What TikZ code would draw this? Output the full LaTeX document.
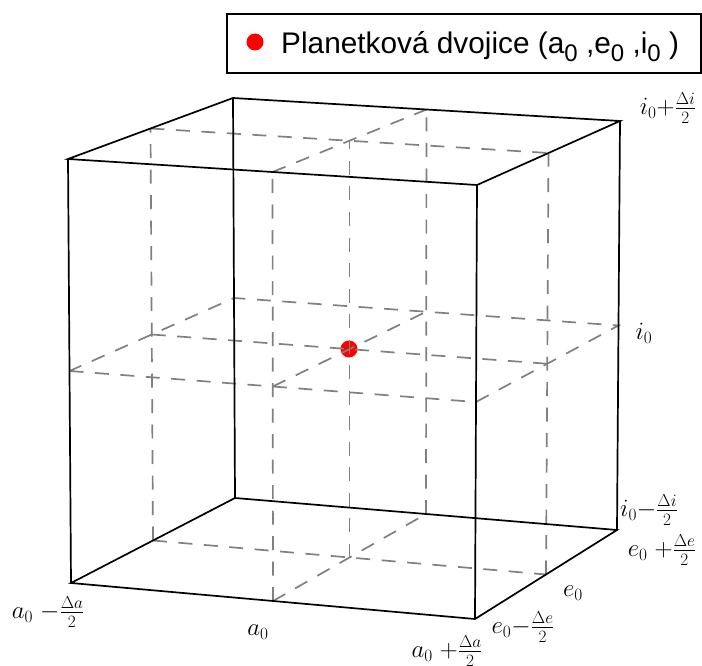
\documentclass[tikz,border=0pt]{standalone}
\usepackage{fontspec}
\newfontfamily\legendfont{Liberation Sans}
\usetikzlibrary{calc}
\newcommand\lsub[1]{\raisebox{-8pt}{\fontsize{24}{24}\selectfont #1}}
\tikzset{
  edge/.style={line width=1.7pt, black},
  grid/.style={line width=1.7pt, color={rgb,255:red,128;green,128;blue,128}, dash pattern=on 14pt off 11.5pt},
  lab/.style={inner sep=0pt, font=\fontsize{24}{28}\selectfont},
}
\begin{document}
\begin{tikzpicture}[x=1pt,y=-1pt]
\useasboundingbox (0,0) rectangle (702,666);
% corners
\coordinate (A) at (71,583);
\coordinate (B) at (475,619);
\coordinate (C) at (617,530);
\coordinate (D) at (235,498);
\coordinate (At) at (68,159);
\coordinate (Bt) at (477,185);
\coordinate (Ct) at (620,121);
\coordinate (Dt) at (233,98);
% bottom mids
\coordinate (mAB) at ($(A)!0.5!(B)$);
\coordinate (mDC) at ($(D)!0.5!(C)$);
\coordinate (mAD) at ($(A)!0.5!(D)$);
\coordinate (mBC) at ($(B)!0.5!(C)$);
\coordinate (cB) at ($(mAB)!0.5!(mDC)$);
% top mids
\coordinate (tAB) at ($(At)!0.5!(Bt)$);
\coordinate (tDC) at ($(Dt)!0.5!(Ct)$);
\coordinate (tAD) at ($(At)!0.5!(Dt)$);
\coordinate (tBC) at ($(Bt)!0.5!(Ct)$);
\coordinate (cT) at ($(tAB)!0.5!(tDC)$);
% middle plane
\coordinate (hA) at ($(A)!0.5!(At)$);
\coordinate (hB) at ($(B)!0.5!(Bt)$);
\coordinate (hC) at ($(C)!0.5!(Ct)$);
\coordinate (hD) at ($(D)!0.5!(Dt)$);
\coordinate (hAB) at ($(mAB)!0.5!(tAB)$);
\coordinate (hDC) at ($(mDC)!0.5!(tDC)$);
\coordinate (hAD) at ($(mAD)!0.5!(tAD)$);
\coordinate (hBC) at ($(mBC)!0.5!(tBC)$);
% point
\fill[red] (349,349) circle (8.5pt);
% dashed grid
\draw[grid] (mAB) -- (tAB);
\draw[grid] (mDC) -- (tDC);
\draw[grid] (mAD) -- (tAD);
\draw[grid] (mBC) -- (tBC);
\draw[grid] (cB) -- (cT);
\draw[grid] (mAB) -- (mDC);
\draw[grid] (mAD) -- (mBC);
\draw[grid] (tAB) -- (tDC);
\draw[grid] (tAD) -- (tBC);
\draw[grid] (hA) -- (hB) -- (hC) -- (hD) -- cycle;
\draw[grid] (hAB) -- (hDC);
\draw[grid] (hAD) -- (hBC);
% cube edges
\draw[edge] (A) -- (B) -- (C) -- (D) -- cycle;
\draw[edge] (At) -- (Bt) -- (Ct) -- (Dt) -- cycle;
\draw[edge] (A) -- (At);
\draw[edge] (B) -- (Bt);
\draw[edge] (C) -- (Ct);
\draw[edge] (D) -- (Dt);
% labels
\node[lab] (l1) at (668,108) {$i_0{+}\frac{\Delta i}{2}$};
\node[lab] (l2) at (644,333) {$i_0$};
\node[lab] (l3) at (649,510) {$i_0{-}\frac{\Delta i}{2}$};
\node[lab] (l4) at (662,550) {$e_0\ {+}\frac{\Delta e}{2}$};
\node[lab] (l5) at (573,593) {$e_0$};
\node[lab] (l6) at (523,627) {$e_0{-}\frac{\Delta e}{2}$};
\node[lab] (l7) at (447,651) {$a_0\ {+}\frac{\Delta a}{2}$};
\node[lab] (l8) at (258,632) {$a_0$};
\node[lab] (l9) at (48,612) {$a_0\ {-}\frac{\Delta a}{2}$};
% legend
\draw[line width=2pt] (227,14) rectangle (701,73);
\fill[red] (255,42) circle (8.5pt);
\node[inner sep=0pt, anchor=base west, font=\legendfont\fontsize{29.8}{34}\selectfont] (leg) at (281,54)
  {Planetková dvojice (a\lsub{0} ,e\lsub{0} ,i\lsub{0} )};
\end{tikzpicture}
\end{document}
